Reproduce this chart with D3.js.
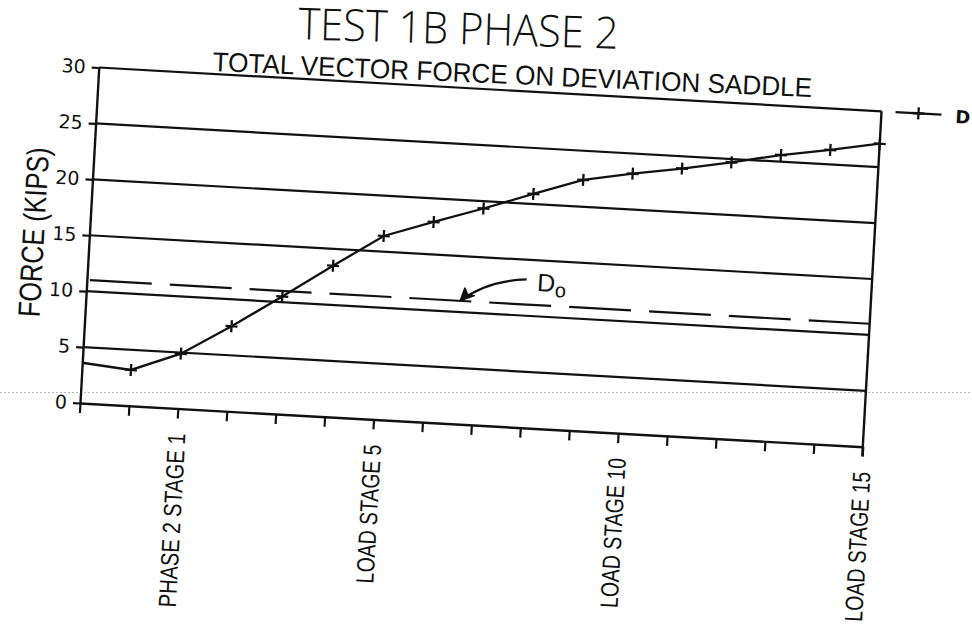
<!DOCTYPE html>
<html>
<head>
<meta charset="utf-8">
<script src="https://cdn.jsdelivr.net/npm/d3@7/dist/d3.min.js"></script>
<style>
  body { margin: 0; background: #fff; }
  svg { display: block; }
  text { fill: #111; }
</style>
</head>
<body>
<svg id="chart" width="972" height="624"></svg>
<script>
// Load stages (stage -1 is the start of the record, before phase 2 stage 1)
const stages = [-1, 0, 1, 2, 3, 4, 5, 6, 7, 8, 9, 10, 11, 12, 13, 14, 15];
// Total vector force D on the deviation saddle, kips
const forceD = [3.6, 3.2, 4.9, 7.6, 10.5, 13.5, 16.4, 17.9, 19.35, 20.9, 22.4, 23.2, 23.9, 24.7, 25.6, 26.3, 27.1];
// Initial force Do (dashed reference)
const forceDo = 11.0;

const yTicks = [0, 5, 10, 15, 20, 25, 30];
const xTicks = d3.range(-1, 16);
const labelStages = [1, 5, 10, 15];
const labelTexts = ["PHASE  2  STAGE  1", "LOAD  STAGE  5", "LOAD  STAGE  10", "LOAD  STAGE  15"];

const titleText = "TEST 1B PHASE 2";
const subtitleText = "TOTAL VECTOR FORCE ON DEVIATION SADDLE";
const yTitleText = "FORCE (KIPS)";
const seriesName = "D";

// ---- layout ----
const origin = { x: 80, y: 403 };   // lower-left corner of the plot frame
const W = 784, H = 336;
const tilt = 3.2;                    // the whole sheet sits slightly turned

const svg = d3.select("#chart");
const font = "'Liberation Sans', Arial, sans-serif";

// faint dotted rule across the sheet
svg.append("line")
  .attr("x1", 0).attr("x2", 972).attr("y1", 392.5).attr("y2", 392.5)
  .attr("stroke", "#b8b8b8").attr("stroke-width", 1).attr("stroke-dasharray", "2,2");

const g = svg.append("g")
  .attr("transform", `rotate(${tilt},${origin.x},${origin.y}) translate(${origin.x},${origin.y - H})`);

const x = d3.scaleLinear().domain([-1, 15]).range([0, W]);
const y = d3.scaleLinear().domain([0, 30]).range([H, 0]);

const ink = "#111";

// horizontal grid lines (the 30 line closes the frame on top)
g.append("g").selectAll("line")
  .data(yTicks.filter(v => v > 0))
  .join("line")
  .attr("x1", 0).attr("x2", W)
  .attr("y1", d => y(d)).attr("y2", d => y(d))
  .attr("stroke", ink).attr("stroke-width", 2.2);

// left axis with outward ticks
const yAxis = g.append("g")
  .call(d3.axisLeft(y).tickValues(yTicks).tickSize(7).tickSizeOuter(0).tickPadding(6));
yAxis.select(".domain").attr("stroke", ink).attr("stroke-width", 2.4);
yAxis.selectAll(".tick line").attr("stroke", ink).attr("stroke-width", 2.2);
yAxis.selectAll(".tick text")
  .attr("font-family", "'DejaVu Sans', sans-serif").attr("font-size", 19).attr("fill", ink);

// bottom axis with downward ticks
const xAxis = g.append("g").attr("transform", `translate(0,${H})`)
  .call(d3.axisBottom(x).tickValues(xTicks).tickSize(10).tickSizeOuter(0).tickFormat(""));
xAxis.select(".domain").attr("stroke", ink).attr("stroke-width", 2.4);
xAxis.selectAll(".tick line").attr("stroke", ink).attr("stroke-width", 2.2);

// right frame edge
g.append("line")
  .attr("x1", W).attr("x2", W).attr("y1", 0).attr("y2", H + 9)
  .attr("stroke", ink).attr("stroke-width", 2.4);

// stage labels, vertical
const labelLen = [174, 139, 150, 150];
g.append("g").selectAll("text")
  .data(labelStages)
  .join("text")
  .attr("transform", d => `translate(${x(d) + 9},${H + 25}) rotate(-90)`)
  .attr("text-anchor", "end")
  .attr("font-family", font).attr("font-size", 25)
  .attr("textLength", (d, i) => labelLen[i]).attr("lengthAdjust", "spacingAndGlyphs")
  .text((d, i) => labelTexts[i]);

// Do reference line
g.append("line")
  .attr("x1", 3).attr("x2", W)
  .attr("y1", y(forceDo)).attr("y2", y(forceDo))
  .attr("stroke", ink).attr("stroke-width", 2.2)
  .attr("stroke-dasharray", "62,18");

// Do callout arrow
const arrowTip = [x(6.63), y(forceDo)];
const arrowStart = [x(7.96), y(13.25)];
const arrowCtrl = [x(7.15), y(12.93)];
g.append("path")
  .attr("d", `M${arrowStart[0]},${arrowStart[1]} Q${arrowCtrl[0]},${arrowCtrl[1]} ${arrowTip[0]},${arrowTip[1]}`)
  .attr("fill", "none").attr("stroke", ink).attr("stroke-width", 2.2);
g.append("path")
  .attr("d", `M${arrowTip[0]},${arrowTip[1]} l4,-13 l3,6 l7,1 z`)
  .attr("fill", ink).attr("stroke", ink).attr("stroke-width", 1.5).attr("stroke-linejoin", "round");
const doLabel = g.append("text")
  .attr("x", x(8.18)).attr("y", y(forceDo) - 14)
  .attr("font-family", font).attr("font-size", 25);
doLabel.append("tspan").text("D");
doLabel.append("tspan").attr("font-size", 20).attr("dy", 5).text("o");

// D series line and plus markers
const pts = stages.map((s, i) => [s, forceD[i]]);
g.append("path")
  .datum(pts)
  .attr("d", d3.line().x(d => x(d[0])).y(d => y(d[1])))
  .attr("fill", "none").attr("stroke", ink).attr("stroke-width", 2.3);

const plus = "M-6,0H6M0,-6V6";
g.append("g").selectAll("path")
  .data(pts.slice(1))
  .join("path")
  .attr("transform", d => `translate(${x(d[0])},${y(d[1])})`)
  .attr("d", plus).attr("stroke", ink).attr("stroke-width", 2.3);

// legend
const lg = g.append("g").attr("transform", `translate(${W + 14},0)`);
lg.append("line").attr("x1", 0).attr("x2", 46).attr("y1", 0).attr("y2", 0)
  .attr("stroke", ink).attr("stroke-width", 2.3);
lg.append("path").attr("transform", "translate(23,0)").attr("d", plus)
  .attr("stroke", ink).attr("stroke-width", 2.3);
lg.append("text").attr("x", 60).attr("y", 7.5)
  .attr("font-family", "'DejaVu Sans', sans-serif").attr("font-weight", "bold").attr("font-size", 18)
  .text(seriesName);

// y axis title
g.append("text")
  .attr("transform", `translate(-56,${H / 2}) rotate(-90)`)
  .attr("text-anchor", "middle").attr("dy", "0.35em")
  .attr("font-family", font).attr("font-size", 31)
  .attr("textLength", 170).attr("lengthAdjust", "spacingAndGlyphs")
  .text(yTitleText);

// titles, lettered at a slightly shallower slant than the frame
svg.append("text")
  .attr("transform", "translate(458,44) rotate(1.7)")
  .attr("text-anchor", "middle")
  .attr("font-family", "'Open Sans', sans-serif").attr("font-weight", 300).attr("font-size", 44)
  .attr("textLength", 320).attr("lengthAdjust", "spacingAndGlyphs")
  .text(titleText);
svg.append("text")
  .attr("transform", "translate(512,84) rotate(2.5)")
  .attr("text-anchor", "middle")
  .attr("font-family", font).attr("font-size", 27)
  .attr("textLength", 600).attr("lengthAdjust", "spacingAndGlyphs")
  .text(subtitleText);
</script>
</body>
</html>
